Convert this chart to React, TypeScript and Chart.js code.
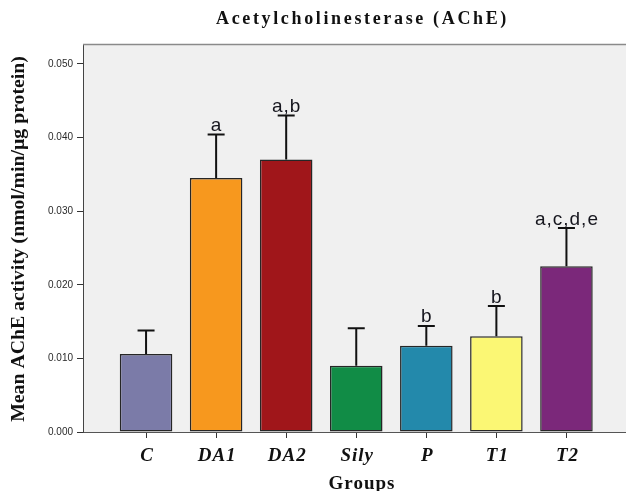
import React, { useEffect, useRef } from 'react';
import { Chart, registerables } from 'chart.js';

Chart.register(...registerables);

const categories = ['C', 'DA1', 'DA2', 'Sily', 'P', 'T1', 'T2'];
const means = [0.0106, 0.0345, 0.037, 0.009, 0.0117, 0.013, 0.0225];
const errors = [0.0032, 0.0059, 0.006, 0.0051, 0.0027, 0.0041, 0.0052];
const letters = ['', 'a', 'a,b', '', 'b', 'b', 'a,c,d,e'];
const colors = ['#7B7BA8', '#F7981E', '#A0161A', '#118C46', '#2389AB', '#FBF774', '#7B287A'];
const yTicks = [0, 0.01, 0.02, 0.03, 0.04, 0.05];

const titleText = 'Acetylcholinesterase (AChE)';
const yTitleText = 'Mean AChE activity (nmol/min/\u00B5g protein)';
const xTitleText = 'Groups';

const spssPlugin = {
  id: 'spssStyle',
  beforeDraw(chart: any) {
    const { ctx, chartArea: a } = chart;
    ctx.save();
    ctx.fillStyle = '#F0F0F0';
    ctx.fillRect(a.left, a.top, a.right - a.left, a.bottom - a.top);
    ctx.restore();
  },
  afterDatasetsDraw(chart: any) {
    const { ctx } = chart;
    const xs = chart.scales.x;
    const ys = chart.scales.y;
    ctx.save();
    means.forEach((m, i) => {
      const x = xs.getPixelForValue(i + 1);
      const y0 = ys.getPixelForValue(m);
      const y1 = ys.getPixelForValue(m + errors[i]);
      ctx.strokeStyle = '#111';
      ctx.lineWidth = 2;
      ctx.beginPath();
      ctx.moveTo(x, y0);
      ctx.lineTo(x, y1);
      ctx.moveTo(x - 8.5, y1);
      ctx.lineTo(x + 8.5, y1);
      ctx.stroke();
      if (letters[i]) {
        ctx.fillStyle = '#16161e';
        ctx.font = '19px "Liberation Sans", Arial, sans-serif';
        (ctx as any).letterSpacing = '1px';
        ctx.textAlign = 'center';
        ctx.textBaseline = 'alphabetic';
        ctx.fillText(letters[i], x + 0.5, y1 - 3.5);
        (ctx as any).letterSpacing = '0px';
      }
    });
    ctx.restore();
  },
  afterDraw(chart: any) {
    const { ctx, chartArea: a } = chart;
    const xs = chart.scales.x;
    ctx.save();
    // top border
    ctx.strokeStyle = '#8a8a8a';
    ctx.lineWidth = 1.5;
    ctx.beginPath();
    ctx.moveTo(a.left, a.top + 0.5);
    ctx.lineTo(a.right, a.top + 0.5);
    ctx.stroke();

    // title
    ctx.fillStyle = '#111';
    ctx.font = 'bold 18px "Liberation Serif", serif';
    (ctx as any).letterSpacing = '0px';
    const w = ctx.measureText(titleText).width;
    const sp = Math.max(0, (293 - w) / titleText.length);
    (ctx as any).letterSpacing = sp + 'px';
    ctx.textAlign = 'left';
    ctx.textBaseline = 'middle';
    ctx.fillText(titleText, 216, 19);

    // x labels
    ctx.font = 'italic bold 19px "Liberation Serif", serif';
    (ctx as any).letterSpacing = '1px';
    ctx.textAlign = 'center';
    ctx.textBaseline = 'middle';
    categories.forEach((c, i) => {
      ctx.fillText(c, xs.getPixelForValue(i + 1) + 1, 456);
    });

    // x title
    ctx.font = 'bold 19px "Liberation Serif", serif';
    (ctx as any).letterSpacing = '1px';
    ctx.fillText(xTitleText, 362, 484);

    // y title
    (ctx as any).letterSpacing = '0px';
    ctx.font = 'bold 17px "Liberation Serif", serif';
    const yw = ctx.measureText(yTitleText).width;
    const fs = Math.max(14, Math.min(20, (17 * 366) / yw));
    ctx.font = `bold ${fs}px "Liberation Serif", serif`;
    ctx.translate(19, 239);
    ctx.rotate(-Math.PI / 2);
    ctx.textAlign = 'center';
    ctx.textBaseline = 'middle';
    ctx.fillText(yTitleText, 0, 0);
    ctx.restore();
  },
};

export default function App() {
  const ref = useRef<HTMLCanvasElement | null>(null);
  useEffect(() => {
    document.body.style.margin = '0';
    const canvas = ref.current;
    if (!canvas) return;
    const chart = new Chart(canvas, {
      type: 'bar',
      data: {
        datasets: [
          {
            data: means.map((m, i) => ({ x: i + 1, y: m })),
            backgroundColor: colors,
            borderColor: '#262626',
            borderWidth: 1.5,
            borderSkipped: false,
            barPercentage: 0.75,
            categoryPercentage: 1,
          } as any,
        ],
      },
      options: {
        animation: false,
        responsive: false,
        layout: { padding: { top: 44, left: 0, right: 0, bottom: 0 } },
        plugins: {
          legend: { display: false },
          tooltip: { enabled: false },
          title: { display: false },
        },
        scales: {
          x: {
            type: 'linear',
            min: 0.1,
            max: 7.85,
            offset: false,
            afterBuildTicks: (scale: any) => {
              scale.ticks = categories.map((_, i) => ({ value: i + 1 }));
            },
            afterFit: (scale: any) => {
              scale.height = 59;
            },
            ticks: { display: false },
            grid: { offset: false, drawOnChartArea: false, drawTicks: true, tickLength: 6, color: '#333', lineWidth: 1 },
            border: { display: true, color: '#555', width: 1 },
          },
          y: {
            min: 0,
            max: 0.0527,
            afterBuildTicks: (scale: any) => {
              scale.ticks = yTicks.map((v) => ({ value: v }));
            },
            afterFit: (scale: any) => {
              scale.width = 83;
            },
            ticks: {
              callback: (v: any) => Number(v).toFixed(3),
              font: { family: '"Liberation Sans", Arial, sans-serif', size: 10 },
              color: '#2a2a2a',
              padding: 4,
            },
            grid: { drawOnChartArea: false, drawTicks: true, tickLength: 6, color: '#333', lineWidth: 1 },
            border: { display: true, color: '#444', width: 1 },
          },
        },
      } as any,
      plugins: [spssPlugin],
    });
    return () => chart.destroy();
  }, []);
  return (
    <div style={{ width: 626, height: 491, background: '#fff' }}>
      <canvas ref={ref} width={626} height={491} style={{ display: 'block' }} />
    </div>
  );
}
